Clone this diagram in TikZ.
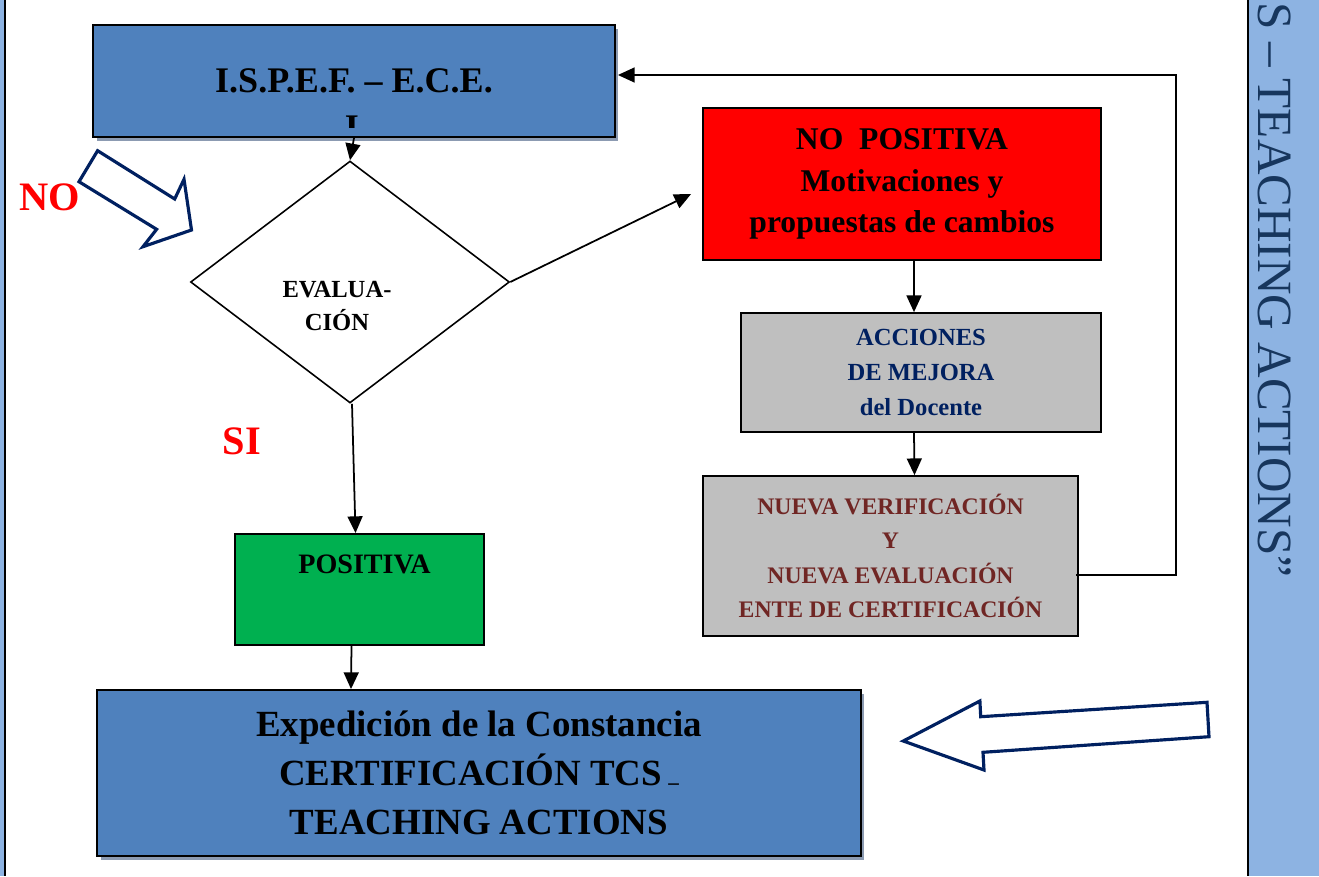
\documentclass[tikz,border=0pt]{standalone}
\usepackage{fontspec}
\setmainfont{Liberation Serif}
\usetikzlibrary{shapes.geometric, arrows.meta, shadows}

\definecolor{boxblue}{RGB}{79,129,189}
\definecolor{shadowgray}{RGB}{140,155,178}
\definecolor{boxgray}{RGB}{191,191,191}
\definecolor{boxgreen}{RGB}{0,176,80}
\definecolor{navytext}{RGB}{0,32,96}
\definecolor{winetext}{RGB}{112,38,36}
\definecolor{panelblue}{RGB}{141,179,226}
\definecolor{paneltext}{RGB}{23,54,93}

\begin{document}
\begin{tikzpicture}[x=0.02cm, y=-0.02cm,
	box/.style={draw=black, line width=1.1pt, inner sep=0, align=center},
	bluebox/.style={box, fill=boxblue, drop shadow={shadow xshift=2pt, shadow yshift=-2pt, fill=shadowgray, opacity=1}},
	greybox/.style={box, fill=boxgray, line width=1pt},
	link/.style={-{Triangle[length=9.5pt, width=8.5pt]}, line width=1pt, black},
	answer/.style={text=red, font=\fontsize{23}{23}\selectfont\bfseries, inner sep=0},
	hollow/.style={draw=navytext, line width=1.8pt, fill=white, line join=miter}
	]
	\useasboundingbox (0,0) rectangle (1319,876);
	\clip (0,0) rectangle (1319,876);
	
	% side strips
	\fill [panelblue] (0,0) rectangle (4,876);
	\draw [line width=1.2pt] (5,0) -- (5,876);
	\fill [panelblue] (1248,0) rectangle (1319,876);
	\draw [line width=1.2pt] (1248,0) -- (1248,876);
	\node (paneltitle) at (1258,578) [rotate=-90, anchor=base east, inner sep=0, text=paneltext,
		font=\fontsize{28}{28}\selectfont] {S – TEACHING ACTIONS”};
	
	% left column
	\node (ispef) at (354,81) [bluebox, minimum width=10.44cm, minimum height=2.24cm,
		font=\fontsize{20.5}{24}\selectfont\bfseries] {I.S.P.E.F. – E.C.E.};
	\begin{scope}
		\clip (340,112) rectangle (366,127);
		\node (ifrag) at (352,116) [anchor=north, inner sep=0, font=\fontsize{20.5}{24}\selectfont\bfseries] {I};
	\end{scope}
	
	\node (eval) at (350,282) [draw, diamond, line width=0.9pt, minimum width=6.38cm, minimum height=4.84cm, inner sep=0] {};
	\node (evaltext) at (337,306) [align=center, inner sep=0, font=\fontsize{14}{18.7}\selectfont\bfseries] {EVALUA-\\CIÓN};
	
	\node (no) at (50,197) [answer] {NO};
	\node (si) at (242,441) [answer] {SI};
	
	\node (positiva) at (359.5,589.5) [box, fill=boxgreen, minimum width=4.98cm, minimum height=2.22cm] {};
	\node (postext) at ([shift={(5,21)}]positiva.north) [anchor=north, inner sep=0, font=\fontsize{16}{16}\selectfont\bfseries] {POSITIVA};
	
	\node (expedicion) at (479,773) [bluebox, minimum width=15.28cm, minimum height=3.32cm,
		font=\fontsize{21}{28}\selectfont\bfseries]
		{Expedición de la Constancia\\CERTIFICACIÓN TCS\,{\fontsize{12}{12}\selectfont\raisebox{-2pt}{–}}\\TEACHING ACTIONS};
	
	% right column
	\node (nopos) at (902,184) [box, fill=red, minimum width=7.96cm, minimum height=3.04cm,
		font=\fontsize{18}{23.5}\selectfont\bfseries] {NO\ \ POSITIVA\\Motivaciones y\\propuestas de cambios};
	\node (acciones) at (921,372.5) [greybox, minimum width=7.2cm, minimum height=2.38cm, text=navytext,
		font=\fontsize{14}{20}\selectfont\bfseries] {ACCIONES\\DE MEJORA\\del Docente};
	\node (nueva) at (890.5,556) [greybox, minimum width=7.5cm, minimum height=3.2cm, text=winetext,
		font=\fontsize{13.5}{19.6}\selectfont\bfseries] {NUEVA VERIFICACIÓN\\Y\\NUEVA EVALUACIÓN\\ENTE DE CERTIFICACIÓN};
	
	% connectors
	\draw [link] (ispef.south) -- (eval.north);
	\draw [link] (eval.east) -- ([shift={(-11,10)}]nopos.west);
	\draw [link] ([shift={(12,0)}]nopos.south) -- ([shift={(-7,0)}]acciones.north);
	\draw [link] ([shift={(-7,0)}]acciones.south) -- ([shift={(24,0)}]nueva.north);
	\draw [link, line width=0.9pt] ([shift={(-3,19)}]nueva.east) -- ++(100,0) |- ([shift={(2,-6)}]ispef.east);
	\draw [link] ([shift={(2,0)}]eval.south) -- ([shift={(-4,0)}]positiva.north);
	\draw [link] ([shift={(-8,0)}]positiva.south) -- ([shift={(-128,0)}]expedicion.north);
	
	% block arrows
	\draw [hollow] (97.6,150.7) -- (174.7,199) -- (184,179.3) -- (191.5,230) -- (143,246.7) -- (156.6,229.3) -- (79,181.7) -- cycle;
	\draw [hollow] (903.3,741) -- (979.9,701) -- (980.7,716.7) -- (1207,702.3) -- (1209,736.7) -- (983,752.3) -- (984,770) -- cycle;
\end{tikzpicture}
\end{document}
